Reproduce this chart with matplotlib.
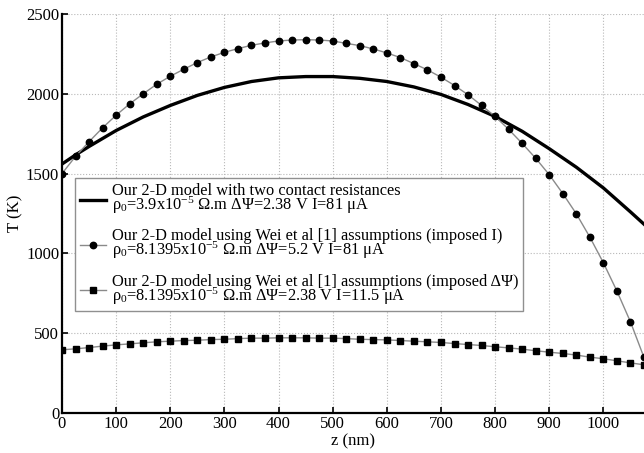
import numpy as np
import matplotlib
matplotlib.use('Agg')
import matplotlib.pyplot as plt

# data
z_pts = np.arange(0, 1100, 25)  # marker positions (nm), 0..1075

T_imposed_I = [1500, 1608, 1700, 1787, 1866, 1937, 2000, 2060, 2110, 2154,
               2196, 2231, 2260, 2283, 2304, 2319, 2331, 2337, 2339, 2337,
               2331, 2316, 2302, 2281, 2256, 2227, 2189, 2150, 2104, 2052,
               1994, 1927, 1858, 1777, 1689, 1596, 1493, 1375, 1248, 1102,
               941, 764, 571, 348]

T_imposed_psi = [396, 402, 410, 419, 427, 433, 440, 446, 450, 454,
                 456, 460, 462, 466, 469, 469, 471, 471, 471, 469,
                 469, 466, 462, 460, 458, 454, 450, 446, 442, 435,
                 429, 423, 415, 408, 400, 390, 381, 373, 363, 350,
                 340, 327, 314, 302]

z_line = [0, 25, 50, 100, 150, 200, 250, 300, 350, 400, 450, 500, 550,
          600, 650, 700, 750, 800, 850, 900, 950, 1000, 1050, 1075]
T_contact = [1560, 1617, 1670, 1770, 1855, 1927, 1990, 2040, 2077, 2100,
             2108, 2108, 2097, 2077, 2043, 1996, 1933, 1858, 1765, 1656,
             1540, 1410, 1260, 1183]

labels = [
    'Our 2-D model with two contact resistances\n'
    'ρ$_0$=3.9x10$^{-5}$ Ω.m ΔΨ=2.38 V I=81 μA',
    'Our 2-D model using Wei et al [1] assumptions (imposed I)\n'
    'ρ$_0$=8.1395x10$^{-5}$ Ω.m ΔΨ=5.2 V I=81 μA',
    'Our 2-D model using Wei et al [1] assumptions (imposed ΔΨ)\n'
    'ρ$_0$=8.1395x10$^{-5}$ Ω.m ΔΨ=2.38 V I=11.5 μA',
]

plt.rcParams['font.family'] = ['Liberation Serif', 'DejaVu Serif']
plt.rcParams['mathtext.fontset'] = 'custom'
plt.rcParams['mathtext.rm'] = 'Liberation Serif'
plt.rcParams['mathtext.it'] = 'Liberation Serif:italic'

fig = plt.figure(figsize=(6.44, 4.53), dpi=100)
ax = fig.add_axes([62 / 644, 40 / 453, 582 / 644, 399 / 453])

ax.plot(z_line, T_contact, color='black', lw=2.4, label=labels[0])
ax.plot(z_pts, T_imposed_I, color='#8a8a8a', lw=1.0, marker='o', ms=4.6,
        mfc='black', mec='black', label=labels[1])
ax.plot(z_pts, T_imposed_psi, color='#8a8a8a', lw=1.0, marker='s', ms=4.0,
        mfc='black', mec='black', label=labels[2])

ax.set_xlim(0, 1075)
ax.set_ylim(0, 2500)
ax.set_xticks(range(0, 1001, 100))
ax.set_yticks(range(0, 2501, 500))
ax.grid(True, color='#b8b8b8', ls=':', lw=0.8)
ax.tick_params(direction='in', length=4, width=1.2, labelsize=12, pad=2)
for s in ['top', 'right']:
    ax.spines[s].set_visible(False)
for s in ['left', 'bottom']:
    ax.spines[s].set_linewidth(1.6)

ax.set_xlabel('z (nm)', fontsize=12, labelpad=1)
ax.set_ylabel('T (K)', fontsize=12, labelpad=2)

leg = ax.legend(loc='upper left', bbox_to_anchor=(13 / 582, 235 / 399),
                borderaxespad=0, fontsize=11.8, numpoints=1, fancybox=False,
                framealpha=1, edgecolor='#909090', handlelength=1.6,
                handletextpad=0.35, labelspacing=0.75, borderpad=0.3)
leg.get_frame().set_linewidth(1.0)
for t in leg.get_texts():
    t.set_linespacing(0.72)

fig.savefig('out.png', dpi=100)
